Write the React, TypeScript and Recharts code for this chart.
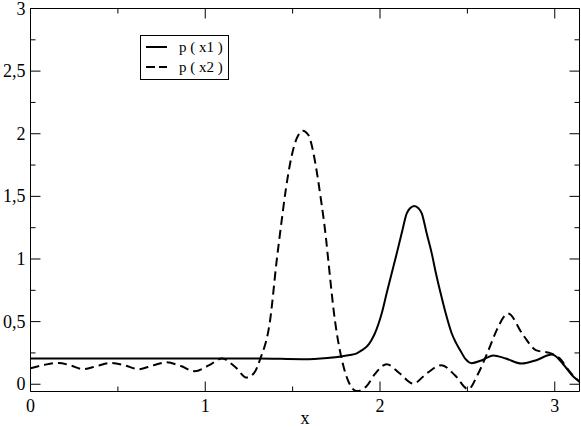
import React from 'react';
import { LineChart, Line, XAxis, YAxis, Legend } from 'recharts';

// sample points
const x1Vals = [0, 0.5, 1.0, 1.3, 1.56, 1.7, 1.78, 1.828, 1.867, 1.895, 1.924, 1.95, 1.971, 2.01, 2.038, 2.067, 2.096, 2.124, 2.153, 2.172, 2.196, 2.22, 2.239, 2.267, 2.296, 2.32, 2.347, 2.376, 2.41, 2.435, 2.458, 2.49, 2.524, 2.58, 2.648, 2.72, 2.81, 2.89, 2.985, 3.048, 3.1, 3.1416];
const p1Vals = [0.205, 0.205, 0.205, 0.205, 0.2, 0.21, 0.222, 0.233, 0.247, 0.27, 0.3, 0.35, 0.407, 0.566, 0.726, 0.886, 1.045, 1.205, 1.365, 1.405, 1.423, 1.405, 1.365, 1.205, 1.045, 0.886, 0.726, 0.566, 0.407, 0.33, 0.273, 0.2, 0.168, 0.19, 0.23, 0.205, 0.165, 0.19, 0.237, 0.16, 0.07, 0.02];

const x2Vals = [0, 0.08, 0.16, 0.23, 0.3, 0.38, 0.457, 0.54, 0.62, 0.7, 0.78, 0.86, 0.94, 1.02, 1.095, 1.17, 1.238, 1.28, 1.314, 1.371, 1.409, 1.434, 1.462, 1.491, 1.51, 1.533, 1.558, 1.59, 1.609, 1.628, 1.661, 1.691, 1.704, 1.742, 1.781, 1.82, 1.866, 1.92, 1.97, 2.038, 2.11, 2.19, 2.27, 2.352, 2.43, 2.505, 2.56, 2.629, 2.667, 2.733, 2.82, 2.895, 2.971, 3.029, 3.086, 3.1416];
const p2Vals = [0.127, 0.155, 0.17, 0.15, 0.12, 0.145, 0.17, 0.15, 0.12, 0.15, 0.175, 0.145, 0.104, 0.15, 0.205, 0.14, 0.053, 0.09, 0.2, 0.51, 0.99, 1.27, 1.565, 1.8, 1.91, 1.99, 2.024, 1.99, 1.91, 1.78, 1.485, 1.165, 0.99, 0.51, 0.2, 0.02, -0.055, -0.02, 0.08, 0.16, 0.09, 0.005, 0.09, 0.152, 0.07, -0.04, 0.08, 0.3, 0.43, 0.564, 0.39, 0.27, 0.25, 0.205, 0.1, 0.02];

const xTicks = [0, 0.5, 1, 1.5, 2, 2.5, 3];
const yTicks = [0, 0.25, 0.5, 0.75, 1, 1.25, 1.5, 1.75, 2, 2.25, 2.5, 2.75, 3];

const series1 = x1Vals.map((x, i) => ({ x, y: p1Vals[i] }));
const series2 = x2Vals.map((x, i) => ({ x, y: p2Vals[i] }));

const FONT = "'Liberation Serif', 'Times New Roman', Times, 'DejaVu Serif', serif";

const isMajor = (v: number) => Math.abs(v * 2 - Math.round(v * 2)) < 1e-6;

const BottomTick = (props: any) => {
  const { x, y, payload } = props;
  const v = payload.value;
  const major = Number.isInteger(v);
  return (
    <g>
      <line x1={x} x2={x} y1={y} y2={y - (major ? 10 : 5)} stroke="#000" />
      {major && (
        <text x={x} y={y + 20} textAnchor="middle" fontSize={18} style={{ fontFamily: FONT }} fill="#000">
          {v}
        </text>
      )}
    </g>
  );
};

const TopTick = (props: any) => {
  const { x, y, payload } = props;
  const major = Number.isInteger(payload.value);
  return <line x1={x} x2={x} y1={y} y2={y + (major ? 10 : 5)} stroke="#000" />;
};

const LeftTick = (props: any) => {
  const { x, y, payload } = props;
  const v = payload.value;
  const major = isMajor(v);
  return (
    <g>
      <line x1={x} x2={x + (major ? 10 : 5)} y1={y} y2={y} stroke="#000" />
      {major && (
        <text x={x - 5} y={y + 6} textAnchor="end" fontSize={18} style={{ fontFamily: FONT }} fill="#000">
          {String(v).replace('.', ',')}
        </text>
      )}
    </g>
  );
};

const RightTick = (props: any) => {
  const { x, y, payload } = props;
  const major = isMajor(payload.value);
  return <line x1={x} x2={x - (major ? 10 : 5)} y1={y} y2={y} stroke="#000" />;
};

const LegendBox = () => (
  <div
    style={{
      border: '1px solid #000',
      width: 87,
      height: 43,
      background: '#fff',
      fontFamily: FONT,
      fontSize: 15,
      color: '#000',
      boxSizing: 'content-box',
    }}
  >
    {[
      { name: 'p ( x1 )', dash: undefined },
      { name: 'p ( x2 )', dash: '9 4' },
    ].map((item, i) => (
      <div key={i} style={{ display: 'flex', alignItems: 'center', height: 20, marginTop: i === 0 ? 1 : 0 }}>
        <svg width={21} height={4} style={{ marginLeft: 5, marginRight: 12 }}>
          <line x1={0} x2={21} y1={2} y2={2} stroke="#000" strokeWidth={2} strokeDasharray={item.dash} />
        </svg>
        <span>{item.name}</span>
      </div>
    ))}
  </div>
);

export default function App() {
  return (
    <div style={{ position: 'absolute', left: 0, top: 0, background: '#fff' }}>
      <LineChart width={581} height={427} margin={{ top: 7.5, right: 0.5, bottom: 0, left: 0 }}>
        <XAxis
          dataKey="x"
          type="number"
          domain={[0, Math.PI]}
          ticks={xTicks}
          interval={0}
          allowDataOverflow
          height={35.5}
          tickSize={0}
          tickMargin={0}
          tickLine={false}
          tick={<BottomTick />}
          axisLine={{ stroke: '#000' }}
          label={{ value: 'x', position: 'insideBottom', offset: 3, fontSize: 18, style: { fontFamily: FONT }, fill: '#000' }}
        />
        <XAxis
          xAxisId="top"
          dataKey="x"
          orientation="top"
          type="number"
          domain={[0, Math.PI]}
          ticks={xTicks}
          interval={0}
          allowDataOverflow
          height={1}
          tickSize={0}
          tickMargin={0}
          tickLine={false}
          tick={<TopTick />}
          axisLine={{ stroke: '#000' }}
        />
        <YAxis
          type="number"
          domain={[-0.058, 3]}
          ticks={yTicks}
          interval={0}
          allowDataOverflow
          width={30.5}
          tickSize={0}
          tickMargin={0}
          tickLine={false}
          tick={<LeftTick />}
          axisLine={{ stroke: '#000' }}
        />
        <YAxis
          yAxisId="right"
          orientation="right"
          type="number"
          domain={[-0.058, 3]}
          ticks={yTicks}
          interval={0}
          allowDataOverflow
          width={1}
          tickSize={0}
          tickMargin={0}
          tickLine={false}
          tick={<RightTick />}
          axisLine={{ stroke: '#000' }}
        />
        <Legend
          layout="vertical"
          align="center"
          verticalAlign="middle"
          content={<LegendBox />}
          wrapperStyle={{ top: 35, left: 140, width: 'auto' }}
        />
        {/* invisible series so the top and right frame axes get drawn */}
        <Line
          xAxisId="top"
          yAxisId="right"
          data={series1}
          dataKey="y"
          stroke="none"
          dot={false}
          activeDot={false}
          legendType="none"
          isAnimationActive={false}
        />
        <Line
          data={series1}
          dataKey="y"
          name="p ( x1 )"
          type="monotone"
          stroke="#000"
          strokeWidth={2}
          dot={false}
          isAnimationActive={false}
        />
        <Line
          data={series2}
          dataKey="y"
          name="p ( x2 )"
          type="monotone"
          stroke="#000"
          strokeWidth={2}
          strokeDasharray="9 5"
          dot={false}
          isAnimationActive={false}
        />
      </LineChart>
    </div>
  );
}
